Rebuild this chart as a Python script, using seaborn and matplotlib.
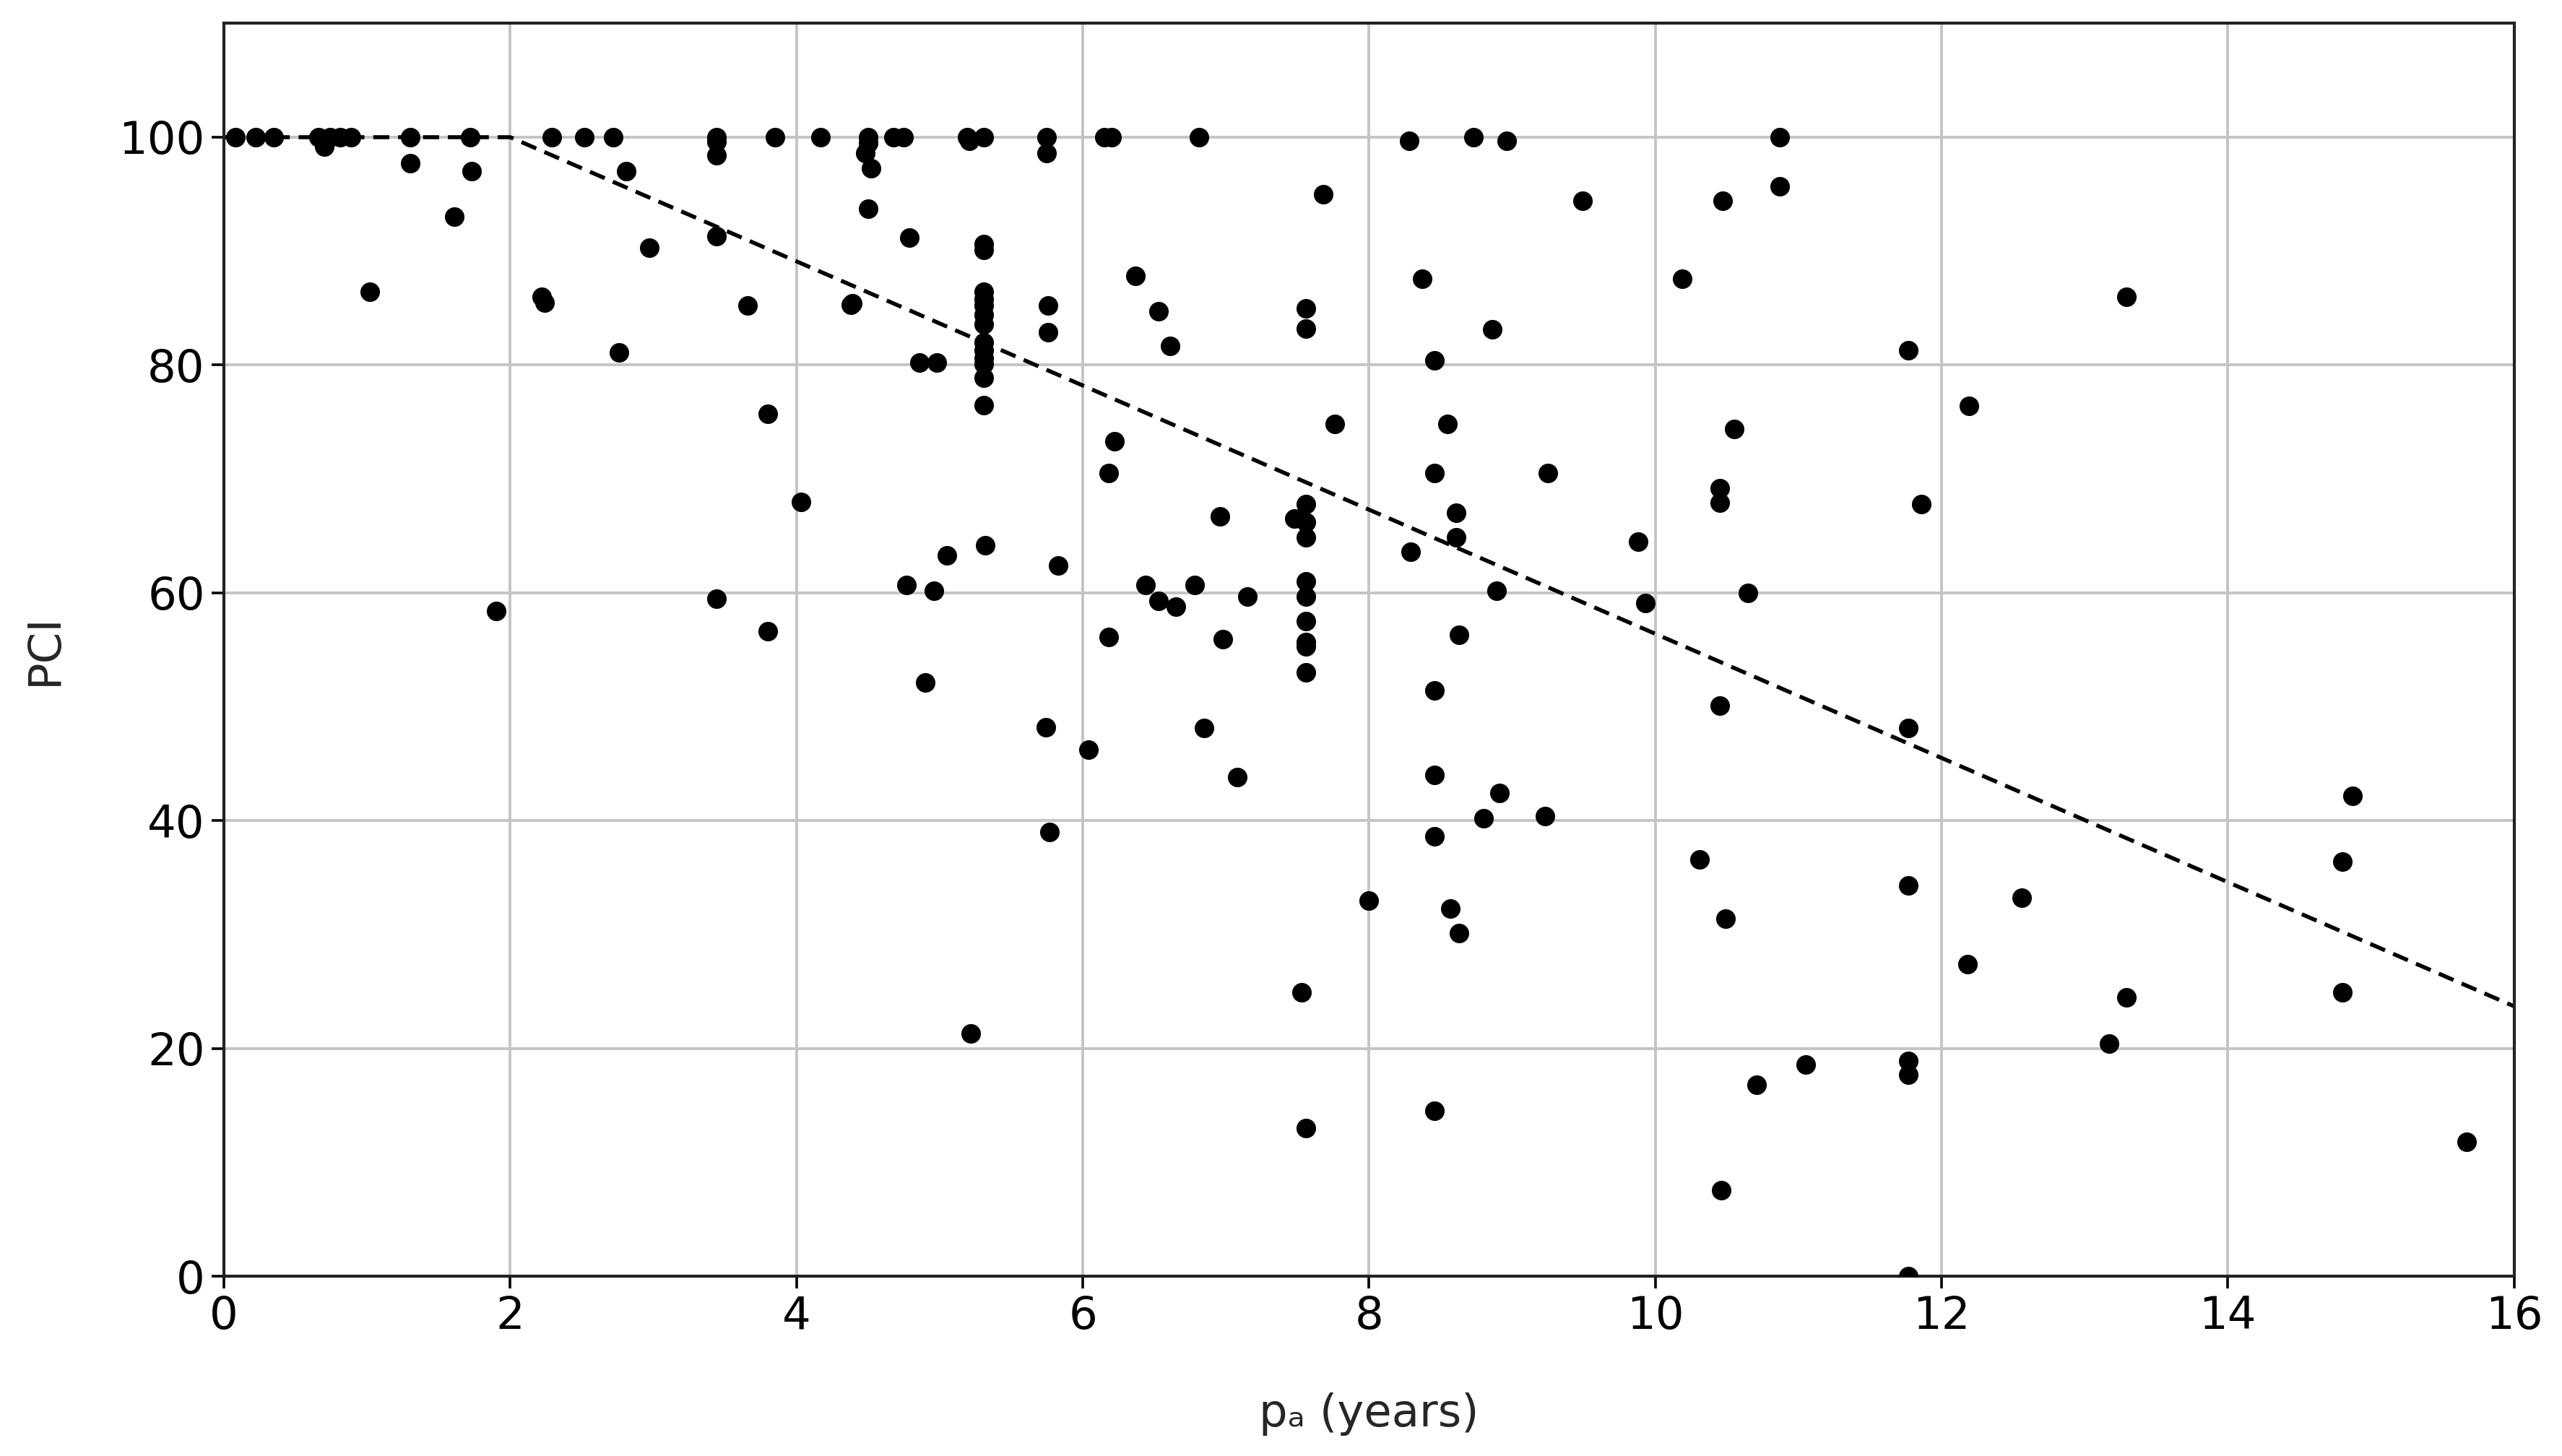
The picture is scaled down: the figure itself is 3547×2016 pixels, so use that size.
import numpy as np
import pandas as pd
import matplotlib
matplotlib.use('Agg')
import matplotlib.pyplot as plt
import seaborn as sns

pa_years = [
    0.08, 0.22, 0.35, 0.66, 0.70, 0.74, 0.81, 0.89, 1.30, 1.30, 1.72, 1.73,
    1.61, 1.02, 2.29, 2.52, 2.72, 2.81, 3.44, 3.44, 3.44, 3.44, 3.85, 4.17,
    2.97, 2.22, 2.24, 3.66, 2.76, 3.80, 4.03, 1.90, 3.44, 3.80,
    4.50, 4.50, 4.48, 4.52, 4.50, 4.68, 4.75, 5.19, 5.21, 5.31, 5.75, 5.75,
    6.15, 6.20, 6.81, 8.28, 7.68, 4.79, 5.31, 5.31, 6.37, 4.38, 4.39,
    5.31, 5.31, 5.31, 5.31, 5.31, 5.31, 5.31, 5.31, 5.31, 5.31, 5.31,
    5.76, 5.76, 6.53, 6.61, 7.56, 7.56, 4.86, 4.98, 7.76, 6.22, 6.18, 6.96,
    7.56, 7.48, 7.56, 7.56, 7.56, 7.56, 7.56, 7.56, 7.56, 7.56, 7.56, 7.53,
    5.32, 5.05, 5.83, 4.77, 4.96, 6.44, 6.53, 6.65, 6.78, 7.15, 8.29, 6.18,
    6.98, 4.90,
    8.73, 8.96, 10.87, 10.87, 9.49, 10.47, 8.37, 10.19, 8.86, 8.46, 11.77,
    12.19, 8.55, 10.55, 8.46, 9.25, 10.45, 10.45, 11.86, 8.61, 8.61, 9.88,
    8.89, 9.93, 10.65, 8.63, 8.46, 10.45,
    5.74, 6.04, 6.85, 7.08, 5.77, 8.00, 5.22,
    11.77, 8.46, 8.91, 8.80, 9.23, 8.46, 10.31, 11.77, 10.49, 8.57, 8.63,
    12.18, 10.71, 11.05, 11.77, 11.77, 8.46, 10.46, 11.77,
    14.87, 14.80, 14.80, 12.56, 13.29, 13.17, 15.67, 13.29,
]
pci = [
    100, 100, 100, 100, 99.2, 100, 100, 100, 100, 97.7, 100, 97.0,
    93.0, 86.4, 100, 100, 100, 97.0, 100, 99.6, 98.4, 91.3, 100, 100,
    90.3, 86.0, 85.5, 85.2, 81.1, 75.7, 68.0, 58.4, 59.5, 56.6,
    100, 99.5, 98.6, 97.3, 93.7, 100, 100, 100, 99.7, 100, 100, 98.6,
    100, 100, 100, 99.7, 95.0, 91.2, 90.6, 90.1, 87.8, 85.3, 85.4,
    86.4, 85.8, 85.2, 84.4, 83.6, 82.0, 81.3, 80.6, 80.1, 78.9, 76.5,
    85.2, 82.9, 84.7, 81.7, 85.0, 83.2, 80.2, 80.2, 74.8, 73.3, 70.5, 66.7,
    67.8, 66.5, 66.2, 64.9, 61.0, 59.7, 57.5, 55.7, 55.3, 53.0, 13.0, 24.9,
    64.2, 63.3, 62.4, 60.7, 60.2, 60.7, 59.3, 58.8, 60.7, 59.7, 63.6, 56.1,
    55.9, 52.1,
    100, 99.7, 100, 95.7, 94.4, 94.4, 87.6, 87.6, 83.1, 80.4, 81.3,
    76.4, 74.8, 74.4, 70.5, 70.5, 69.2, 67.9, 67.8, 67.0, 64.9, 64.5,
    60.2, 59.1, 60.0, 56.3, 51.4, 50.1,
    48.2, 46.2, 48.1, 43.8, 39.0, 33.0, 21.3,
    48.1, 44.0, 42.4, 40.2, 40.4, 38.6, 36.6, 34.3, 31.4, 32.3, 30.1,
    27.4, 16.8, 18.6, 18.9, 17.7, 14.5, 7.55, 0.0,
    42.2, 36.4, 24.9, 33.2, 24.5, 20.4, 11.8, 86.0,
]

# Deterioration curve knots (flat, then linear decline)
curve_years = [0, 2, 16]
curve_pci = [100, 100, 23.7]

df = pd.DataFrame({'pa': pa_years, 'PCI': pci})
curve = pd.DataFrame({'pa': curve_years, 'PCI': curve_pci})

sns.set_style('ticks')
plt.rcParams['font.family'] = ['DejaVu Sans']

fig = plt.figure(figsize=(17.74, 10.08), dpi=200)
ax = fig.add_axes([0.0874, 0.1235, 0.8936, 0.8605])

sns.lineplot(data=curve, x='pa', y='PCI', ax=ax, color='black',
             linestyle=(0, (4, 2.2)), linewidth=2.0, zorder=2)
sns.scatterplot(data=df, x='pa', y='PCI', ax=ax, color='black',
                s=95, linewidth=0, zorder=3)

ax.set_xlim(0, 16)
ax.set_ylim(0, 110)
ax.set_xticks(np.arange(0, 17, 2))
ax.set_yticks(np.arange(0, 101, 20))
ax.grid(True, color='#c4c4c4', linewidth=1.4)
ax.set_axisbelow(True)
for sp in ax.spines.values():
    sp.set_color('#222222')
    sp.set_linewidth(1.5)
ax.tick_params(labelsize=22.5, length=6, width=1.3, colors='black')
ax.set_xlabel('pₐ (years)', fontsize=22.5, labelpad=27)
ax.set_ylabel('PCI', fontsize=22.5, labelpad=26)

fig.savefig('out.png', dpi=200)
